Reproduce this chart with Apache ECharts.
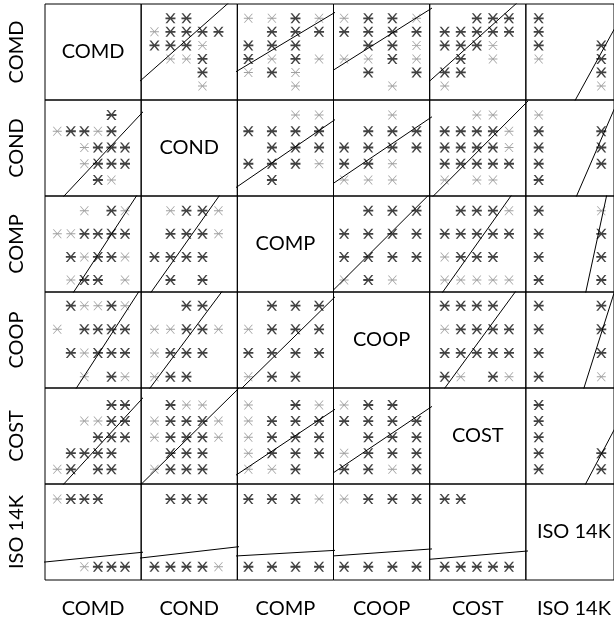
<!DOCTYPE html>
<html><head><meta charset="utf-8">
<script src="https://cdn.jsdelivr.net/npm/echarts@6/dist/echarts.min.js"></script>
<style>html,body{margin:0;padding:0;background:#fff}#c{width:614px;height:623px}</style>
</head><body><div id="c"></div>
<script>
// ---------- DATA ----------
const variables = ['COMD', 'COND', 'COMP', 'COOP', 'COST', 'ISO 14K'];

// axis ranges per variable (data units), used as x (column) and as y (row)
const xMin = [0.092, 0.169, 0.533, 0.56, 0.067, -0.205];
const xMax = [7.195, 6.18, 4.613, 4.545, 6.048, 1.203];
const yMin = [-0.034, 0.015, 0.48, 0.52, 0.086, -0.196];
const yMax = [7.056, 5.923, 4.636, 4.576, 6.056, 1.222];

// observed value combinations: [first var, second var, weight (1 = single, 2 = overplotted)]
const pair_COMD_COND = [[6,2,2],[6,3,2],[5,1,1],[5,2,2],[5,3,2],[5,4,2],[5,5,2],[4,1,2],[4,2,2],[4,3,2],[4,4,1],[3,2,1],[3,3,1],[3,4,2],[2,4,2],[1,4,1]];
const pair_COMD_COMP = [[6,1,1],[6,2,1],[6,3,2],[6,4,1],[5,2,2],[5,3,2],[5,4,2],[4,1,2],[4,2,2],[4,3,2],[3,1,2],[3,2,1],[3,3,2],[3,4,1],[2,1,1],[2,2,2],[2,3,1],[1,3,1]];
const pair_COMD_COOP = [[6,1,1],[6,2,2],[6,3,2],[6,4,1],[5,1,2],[5,2,2],[5,3,2],[5,4,2],[4,2,2],[4,3,2],[4,4,1],[3,1,1],[3,2,1],[3,3,2],[3,4,1],[2,2,2],[2,4,2],[1,3,1]];
const pair_COMD_COST = [[6,3,2],[6,4,2],[6,5,2],[5,1,2],[5,2,2],[5,3,2],[5,4,2],[5,5,2],[4,1,2],[4,2,2],[4,3,2],[4,4,1],[3,2,2],[3,4,1],[2,1,2],[2,2,2],[1,1,1]];
const pair_COMD_ISO  = [[6,0,2],[5,0,2],[4,0,2],[3,0,1],[4,1,2],[3,1,2],[2,1,2],[1,1,1]];
const pair_COND_COMP = [[5,3,1],[5,4,1],[4,1,2],[4,2,2],[4,3,2],[4,4,2],[3,2,2],[3,3,2],[3,4,2],[2,1,2],[2,2,2],[2,3,2],[2,4,1],[1,2,2]];
const pair_COND_COOP = [[5,3,1],[4,2,2],[4,3,2],[4,4,2],[3,1,2],[3,2,2],[3,3,2],[3,4,2],[2,1,2],[2,2,2],[2,3,1],[1,1,1],[1,2,1],[1,3,1]];
const pair_COND_COST = [[5,3,1],[5,4,1],[4,1,2],[4,2,2],[4,3,2],[4,4,2],[4,5,1],[3,1,2],[3,2,2],[3,3,2],[3,4,2],[3,5,1],[2,1,2],[2,2,2],[2,3,2],[2,4,2],[2,5,2],[1,1,1],[1,3,1],[1,4,1]];
const pair_COND_ISO  = [[5,0,1],[4,0,2],[3,0,2],[2,0,2],[1,0,2],[4,1,2],[3,1,2],[2,1,2]];
const pair_COMP_COOP = [[4,2,2],[4,3,2],[4,4,2],[3,1,2],[3,2,2],[3,3,2],[3,4,2],[2,1,2],[2,2,2],[2,3,2],[2,4,2],[1,1,1],[1,2,2],[1,3,1]];
const pair_COMP_COST = [[4,2,2],[4,3,2],[4,4,2],[4,5,1],[3,1,2],[3,2,2],[3,3,2],[3,4,2],[3,5,2],[2,1,1],[2,2,2],[2,3,2],[2,4,2],[1,1,1],[1,2,1],[1,3,1],[1,4,1],[1,5,1]];
const pair_COMP_ISO  = [[1,0,2],[2,0,2],[3,0,2],[4,0,2],[1,1,2],[2,1,2],[3,1,2],[4,1,1]];
const pair_COOP_COST = [[4,1,2],[4,2,2],[4,3,2],[4,4,2],[3,1,1],[3,2,2],[3,3,2],[3,4,2],[3,5,2],[2,1,2],[2,2,2],[2,3,2],[2,4,2],[2,5,2],[1,1,2],[1,2,1],[1,4,2],[1,5,1]];
const pair_COOP_ISO  = [[1,0,2],[2,0,2],[3,0,2],[4,0,2],[1,1,1],[2,1,2],[3,1,2],[4,1,2]];
const pair_COST_ISO  = [[1,0,2],[2,0,2],[3,0,2],[4,0,2],[5,0,2],[1,1,2],[2,1,2]];

// fitted lines per row, per column: [x1, y1, x2, y2] in (column var, row var) units
const fits_COMD = [null, [0.17,1.44,5.48,6.98], [0.53,2.11,4.61,6.37], [0.56,2.18,4.51,6.61], [0.07,1.37,5.35,6.98], [0.60,0.09,0.98,3.29]];
const fits_COND = [[1.57,0.08,7.11,5.00], null, [0.53,0.59,4.61,4.65], [0.56,0.80,4.55,4.80], [0.25,-0.03,6.04,5.72], [0.60,-0.03,1.05,3.97]];
const fits_COMP = [[2.31,0.57,6.74,4.54], [0.89,0.57,4.86,4.46], null, [0.56,0.57,4.41,4.58], [0.89,0.49,4.94,4.46], [0.76,0.57,1.07,4.46]];
const fits_COOP = [[2.48,0.58,6.91,4.49], [0.79,0.58,5.06,4.45], [0.72,0.51,4.54,4.24], null, [1.00,0.51,5.25,4.45], [0.73,0.58,1.05,3.25]];
const fits_COST = [[1.57,0.17,7.06,5.20], [0.27,0.17,6.06,5.83], [0.53,0.69,4.58,4.64], [0.56,0.79,4.52,4.79], null, [0.76,0.17,1.05,2.31]];
const fits_ISO  = [[0.09,0.07,7.11,0.21], [0.17,0.13,6.06,0.29], [0.53,0.16,4.58,0.24], [0.56,0.16,4.52,0.26], [0.07,0.11,6.04,0.23], null];

// ---------- LAYOUT ----------
const LEFT0 = 45, TOP0 = 4, CELL_W = 96.17, CELL_H = 96;
const FONT = '20px Lato, "Open Sans", sans-serif';

const pairTable = {
  '0-1': pair_COMD_COND, '0-2': pair_COMD_COMP, '0-3': pair_COMD_COOP, '0-4': pair_COMD_COST, '0-5': pair_COMD_ISO,
  '1-2': pair_COND_COMP, '1-3': pair_COND_COOP, '1-4': pair_COND_COST, '1-5': pair_COND_ISO,
  '2-3': pair_COMP_COOP, '2-4': pair_COMP_COST, '2-5': pair_COMP_ISO,
  '3-4': pair_COOP_COST, '3-5': pair_COOP_ISO,
  '4-5': pair_COST_ISO
};
const fitRows = [fits_COMD, fits_COND, fits_COMP, fits_COOP, fits_COST, fits_ISO];

function panelPoints(r, c) {
  const a = Math.min(r, c), b = Math.max(r, c);
  const list = pairTable[a + '-' + b];
  // entries are [var a, var b, w]; x = column var, y = row var
  return list.map(p => r < c ? [p[1], p[0], p[2]] : [p[0], p[1], p[2]]);
}

function star(t) {
  const h = t / 2;
  return 'path://' +
    'M0,0L' + t + ',0L10,10L' + (10 - t) + ',10Z' +
    'M' + (10 - t) + ',0L10,0L' + t + ',10L0,10Z' +
    'M0,' + (5 - h) + 'L10,' + (5 - h) + 'L10,' + (5 + h) + 'L0,' + (5 + h) + 'Z';
}
const LIGHT = star(1.1), DARK = star(1.8);

const grids = [], xAxes = [], yAxes = [], series = [], graphics = [];
for (let r = 0; r < 6; r++) {
  for (let c = 0; c < 6; c++) {
    const k = r * 6 + c;
    grids.push({
      left: LEFT0 + c * CELL_W, top: TOP0 + r * CELL_H, width: CELL_W, height: CELL_H,
      show: true, borderColor: '#000', borderWidth: 1, backgroundColor: 'transparent'
    });
    xAxes.push({ type: 'value', gridIndex: k, min: xMin[c], max: xMax[c], show: false });
    yAxes.push({ type: 'value', gridIndex: k, min: yMin[r], max: yMax[r], show: false });
    if (r === c) continue;
    const pts = panelPoints(r, c);
    series.push({
      type: 'scatter', xAxisIndex: k, yAxisIndex: k, silent: true, animation: false,
      symbol: LIGHT, symbolSize: 9, itemStyle: { color: '#8a8a8a' }, z: 3,
      data: pts.filter(p => p[2] === 1).map(p => [p[0], p[1]])
    });
    series.push({
      type: 'scatter', xAxisIndex: k, yAxisIndex: k, silent: true, animation: false,
      symbol: DARK, symbolSize: 10, itemStyle: { color: '#111' }, z: 4,
      data: pts.filter(p => p[2] === 2).map(p => [p[0], p[1]])
    });
    const f = fitRows[r][c];
    const dx = f[2] - f[0], dy = f[3] - f[1], e = 1.5;
    series.push({
      type: 'line', xAxisIndex: k, yAxisIndex: k, silent: true, animation: false, clip: true,
      symbol: 'none', lineStyle: { color: '#000', width: 1 }, z: 5,
      data: [[f[0] - e * dx, f[1] - e * dy], [f[2] + e * dx, f[3] + e * dy]]
    });
  }
}

for (let i = 0; i < 6; i++) {
  const cx = LEFT0 + (i + 0.5) * CELL_W, cy = TOP0 + (i + 0.5) * CELL_H;
  graphics.push({ type: 'text', x: cx, y: cy, style: { text: variables[i], font: FONT, fill: '#000', align: 'center', verticalAlign: 'middle' } });
  graphics.push({ type: 'text', x: cx, y: 609, style: { text: variables[i], font: FONT, fill: '#000', align: 'center', verticalAlign: 'middle' } });
  graphics.push({ type: 'text', x: 17, y: cy, rotation: Math.PI / 2, style: { text: variables[i], font: FONT, fill: '#000', align: 'center', verticalAlign: 'middle' } });
}

const chart = echarts.init(document.getElementById('c'), null, { renderer: 'canvas' });
chart.setOption({
  animation: false,
  backgroundColor: '#fff',
  grid: grids, xAxis: xAxes, yAxis: yAxes, series: series, graphic: graphics
});
</script></body></html>
